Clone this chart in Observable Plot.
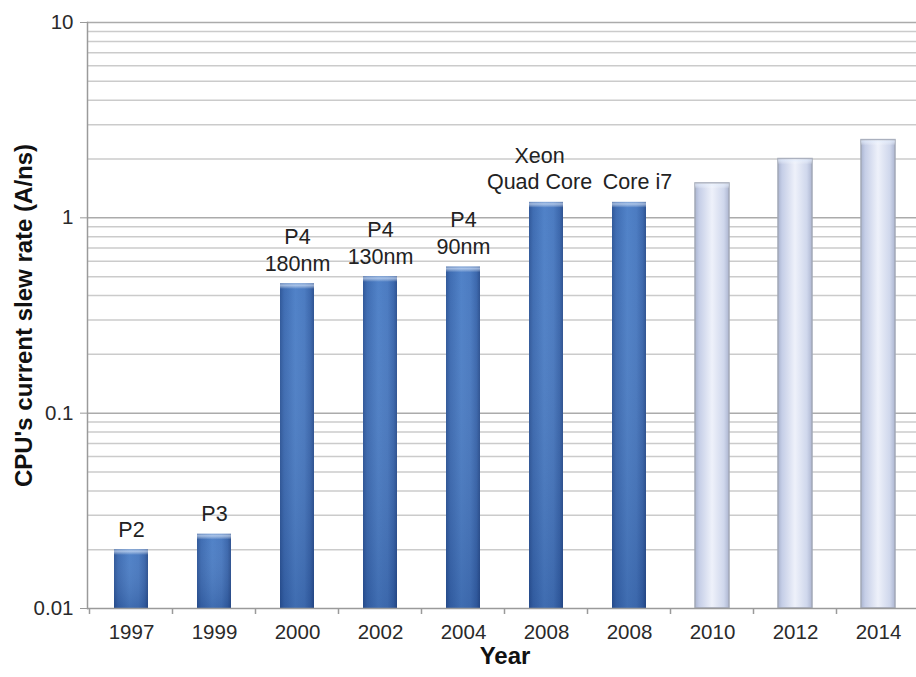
<!DOCTYPE html>
<html><head><meta charset="utf-8">
<script src="https://cdn.jsdelivr.net/npm/d3@7"></script>
<script src="https://cdn.jsdelivr.net/npm/@observablehq/plot@0.6"></script>
<style>body{margin:0;background:#fff;} svg{display:block}</style>
</head><body><div id="chart"></div>
<script>
const years = ["1997","1999","2000","2002","2004","2008","2008","2010","2012","2014"];
const slewRates = [0.02, 0.024, 0.46, 0.5, 0.56, 1.2, 1.2, 1.5, 2.0, 2.5];
const cpuLabels = ["P2","P3","P4\n180nm","P4\n130nm","P4\n90nm","Xeon\nQuad Core","Core i7","","",""];
const projected = [false,false,false,false,false,false,false,true,true,true];
const yTickValues = [0.01, 0.1, 1, 10];
const minorGrid = [0.02,0.03,0.04,0.05,0.06,0.07,0.08,0.09,
                   0.2,0.3,0.4,0.5,0.6,0.7,0.8,0.9,
                   2,3,4,5,6,7,8,9];
const yTitle = "CPU's current slew rate (A/ns)";
const xTitle = "Year";

const data = years.map((year, i) => ({idx: i, year, rate: slewRates[i], cpu: cpuLabels[i], projected: projected[i]}));
const dark = data.filter(d => !d.projected);
const light = data.filter(d => d.projected);
const base = yTickValues[0];
const font = "'Liberation Sans', Arial, Helvetica, sans-serif";

const labelOpts = {x: "idx", y: "rate", text: "cpu", lineAnchor: "bottom", dy: -13, fontSize: 21.5, lineHeight: 1.24, fill: "#222"};
const isXeon = d => d.cpu.startsWith("Xeon");
const isI7 = d => d.cpu.startsWith("Core");

const chart = Plot.plot({
  width: 916, height: 677,
  marginLeft: 87, marginRight: -6, marginTop: 22, marginBottom: 69,
  style: {fontFamily: font, fontSize: "20.5px", color: "#2a2a2a", background: "#fff", overflow: "visible"},
  x: {type: "band", domain: data.map(d => d.idx), paddingInner: 0.59, paddingOuter: 0.295},
  y: {type: "log", domain: [yTickValues[0], yTickValues[yTickValues.length - 1]]},
  marks: [
    Plot.ruleY(minorGrid, {stroke: "#cbcbcb", strokeWidth: 1.5}),
    Plot.ruleY(yTickValues.slice(1), {stroke: "#ababab", strokeWidth: 1.5}),
    Plot.barY(dark, {x: "idx", y1: () => base, y2: "rate", fill: "url(#gDark)"}),
    Plot.barY(dark, {x: "idx", y1: () => base, y2: "rate", fill: "url(#gShade)"}),
    Plot.barY(dark, {x: "idx", y1: d => d.rate / 1.07, y2: "rate", fill: "url(#gCap)"}),
    Plot.barY(light, {x: "idx", y1: () => base, y2: "rate", fill: "url(#gLight)", stroke: "#a3a9b8", strokeWidth: 1.5}),
    Plot.barY(light, {x: "idx", y1: d => d.rate / 1.07, y2: "rate", fill: "url(#gCap)"}),
    Plot.text(dark.filter(d => !isXeon(d) && !isI7(d)), labelOpts),
    Plot.text(dark.filter(isXeon), {...labelOpts, dx: -7}),
    Plot.text(dark.filter(isI7), {...labelOpts, dx: 8}),
    Plot.ruleY([base], {stroke: "#9a9a9a", strokeWidth: 1.5}),
    Plot.frame({anchor: "left", stroke: "#9a9a9a", strokeWidth: 1.5}),
    Plot.axisX({tickFormat: i => years[i], tickSize: 0, tickPadding: 16, label: null, fontSize: 20.5, fill: "#2a2a2a"}),
    Plot.axisY({ticks: yTickValues, tickFormat: d => String(d), tickSize: 7, tickPadding: 7, label: null, fontSize: 20.5, stroke: "#9a9a9a", fill: "#2a2a2a"}),
    Plot.text([xTitle], {frameAnchor: "bottom", dy: 55, text: d => d, fontSize: 24, fontWeight: "bold", fill: "#111"}),
    Plot.text([yTitle], {frameAnchor: "left", dx: -63, rotate: -90, textAnchor: "middle", text: d => d, fontSize: 24, fontWeight: "bold", fill: "#111"})
  ]
});

// gradient defs
const svgNS = "http://www.w3.org/2000/svg";
const defs = document.createElementNS(svgNS, "defs");
function grad(id, horizontal, stops) {
  const g = document.createElementNS(svgNS, "linearGradient");
  g.setAttribute("id", id);
  g.setAttribute("x1", "0"); g.setAttribute("y1", "0");
  g.setAttribute("x2", horizontal ? "1" : "0"); g.setAttribute("y2", horizontal ? "0" : "1");
  for (const [off, col, op] of stops) {
    const s = document.createElementNS(svgNS, "stop");
    s.setAttribute("offset", off);
    s.setAttribute("stop-color", col);
    s.setAttribute("stop-opacity", op == null ? 1 : op);
    g.appendChild(s);
  }
  defs.appendChild(g);
}
grad("gDark", true, [["0%", "#2a5396"], ["12%", "#3968b0"], ["45%", "#4b7ec6"], ["72%", "#4677bf"], ["90%", "#3663aa"], ["100%", "#284d8d"]]);
grad("gShade", false, [["0%", "#ffffff", 0.03], ["100%", "#0a1e50", 0.18]]);
grad("gCap", false, [["0%", "#ffffff", 0.2], ["35%", "#e6f0ff", 0.6], ["100%", "#ffffff", 0]]);
grad("gLight", true, [["0%", "#aab4d0"], ["12%", "#c5cee7"], ["50%", "#eef1fa"], ["85%", "#cfd7ec"], ["100%", "#adb6d1"]]);
chart.insertBefore(defs, chart.firstChild);

// boundary ticks on the x axis
const xs = chart.scale("x"), ys = chart.scale("y");
const y0 = ys.apply(base);
const half = (xs.step - xs.bandwidth) / 2;
const bounds = xs.domain.map(i => xs.apply(i) - half).concat([xs.apply(xs.domain[xs.domain.length - 1]) + xs.bandwidth + half]);
const tg = document.createElementNS(svgNS, "g");
tg.setAttribute("stroke", "#9a9a9a");
tg.setAttribute("stroke-width", "1.5");
for (const bx of bounds) {
  const l = document.createElementNS(svgNS, "line");
  l.setAttribute("x1", bx); l.setAttribute("x2", bx);
  l.setAttribute("y1", y0); l.setAttribute("y2", y0 + 6);
  tg.appendChild(l);
}
chart.appendChild(tg);

document.getElementById("chart").appendChild(chart);
</script>
</body></html>
